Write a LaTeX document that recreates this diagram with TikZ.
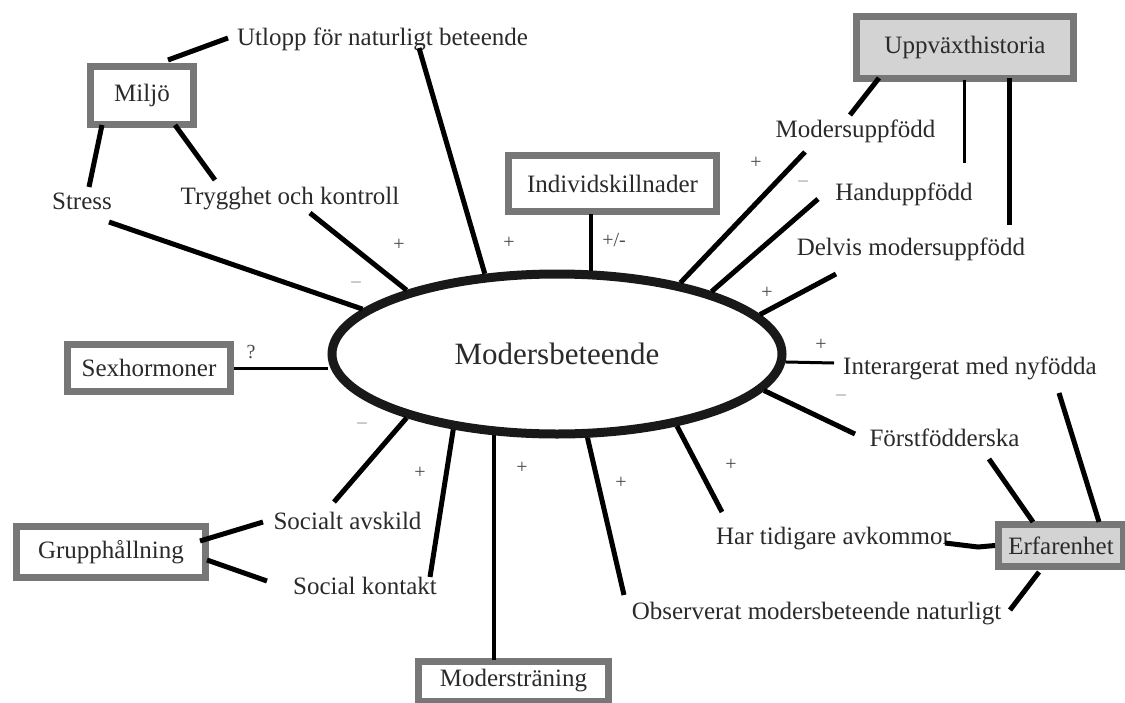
\documentclass[tikz,border=0pt]{standalone}
\usepackage{fontspec}
\setmainfont{Liberation Serif}
\usetikzlibrary{shapes.geometric}
\definecolor{boxgray}{HTML}{777777}
\definecolor{fillgray}{HTML}{D3D3D3}
\definecolor{txt}{HTML}{2A2A2A}
\begin{document}
\begin{tikzpicture}[x=1pt,y=-1pt,
  lbl/.style={font=\fontsize{25}{30}\selectfont, text=txt, inner sep=0pt, anchor=base},
  box/.style={draw=boxgray, line width=7pt, fill=white, rectangle, inner sep=0pt, font=\fontsize{25}{30}\selectfont, text=txt},
  gbox/.style={box, fill=fillgray},
  con/.style={line width=5pt, black},
  thinline/.style={line width=3pt, black},
  sgn/.style={font=\fontsize{20}{24}\selectfont, text=txt!85, inner sep=0pt},
  neg/.style={font=\fontsize{21}{24}\bfseries\selectfont, text=gray!55, inner sep=0pt},
]
\useasboundingbox (0,0) rectangle (1125,702);

% central ellipse
\node[ellipse, draw=black!90, line width=9pt, fill=white, minimum width=450pt, minimum height=160pt, inner sep=0pt,
      font=\fontsize{31}{36}\selectfont, text=txt] (ell) at (557,354) {Modersbeteende};

% boxes
\node[box, minimum width=103pt, minimum height=58pt] (miljo) at (142,95.5) {Miljö};
\node[box, minimum width=208pt, minimum height=56pt] (indiv) at (612.5,183.5) {Individskillnader};
\node[gbox, minimum width=217pt, minimum height=62pt] (uppv) at (965,47.5) {Uppväxthistoria};
\node[box, minimum width=163pt, minimum height=47pt] (sex) at (149,368) {Sexhormoner};
\node[box, minimum width=189pt, minimum height=51pt] (grupp) at (111,552) {Grupphållning};
\node[box, minimum width=190pt, minimum height=40pt] (modtr) at (513.5,681) {Moderstr\"aning};
\node[gbox, minimum width=125pt, minimum height=42pt] (erf) at (1061,545.5) {Erfarenhet};

% labels
\node[lbl] (utl) at (382.5,45) {Utlopp för naturligt beteende};
\node[lbl] (stress) at (82,209) {Stress};
\node[lbl] (tryg) at (290,204) {Trygghet och kontroll};
\node[lbl] (modu) at (855.5,137) {Modersuppfödd};
\node[lbl] (hand) at (904,200) {Handuppfödd};
\node[lbl] (delv) at (911,255) {Delvis modersuppfödd};
\node[lbl] (inter) at (970,374) {Interargerat med nyfödda};
\node[lbl] (forst) at (944.5,446) {Förstfödderska};
\node[lbl] (har) at (833.5,544) {Har tidigare avkommor};
\node[lbl] (obs) at (816.5,619) {Observerat modersbeteende naturligt};
\node[lbl] (savsk) at (347.5,529) {Socialt avskild};
\node[lbl] (skont) at (365,594) {Social kontakt};

% signs
\node[sgn] (s1) at (399,245) {+};
\node[sgn] (s2) at (509,243) {+};
\node[sgn] (s3) at (614,240) {+/-};
\node[sgn] (s4) at (756,163) {+};
\node[neg] (s5) at (803,185) {−};
\node[sgn] (s6) at (767,293) {+};
\node[sgn] (s7) at (821,345) {+};
\node[neg] (s8) at (841,399) {−};
\node[sgn] (s9) at (731,465) {+};
\node[sgn] (s10) at (621,483) {+};
\node[sgn] (s11) at (522,468) {+};
\node[sgn] (s12) at (420,473) {+};
\node[neg] (s13) at (362,427) {−};
\node[neg] (s14) at (356,286) {−};
\node[sgn] (s15) at (251,352) {?};

% connector end points
\coordinate (m1) at (168,60);
\coordinate (u1) at (228,38);
\coordinate (m2) at (102,125);
\coordinate (st1) at (89,187);
\coordinate (m3) at (175,125);
\coordinate (tr1) at (215,180);
\coordinate (st2) at (109,222);
\coordinate (tr2) at (310,213);
\coordinate (u2) at (419,48);
\coordinate (in1) at (591,214);
\coordinate (up1) at (879,78);
\coordinate (mu1) at (850,115);
\coordinate (up2) at (964,80);
\coordinate (ha1) at (964,163);
\coordinate (up3) at (1009,78);
\coordinate (de1) at (1009,225);
\coordinate (mu2) at (805,152);
\coordinate (ha2) at (818,199);
\coordinate (de2) at (836,274);
\coordinate (ia1) at (834,363);
\coordinate (fo1) at (855,434);
\coordinate (fo2) at (989,459);
\coordinate (er1) at (1033,522);
\coordinate (ia2) at (1059,393);
\coordinate (er2) at (1099,522);
\coordinate (ha3) at (945,543);
\coordinate (ha4) at (978,547);
\coordinate (hr1) at (722,512);
\coordinate (ob1) at (624,595);
\coordinate (er3) at (1039,572);
\coordinate (ob2) at (1010,610);
\coordinate (mt1) at (494,660);
\coordinate (sk1) at (430,577);
\coordinate (sa1) at (334,502);
\coordinate (gr1) at (200,541);
\coordinate (sa2) at (263,522);
\coordinate (gr2) at (207,560);
\coordinate (sk2) at (267,581);

% connectors
\draw[con] (m1) -- (u1);
\draw[con] (m2) -- (st1);
\draw[con] (m3) -- (tr1);
\draw[con] (st2) -- (ell.167.5);
\draw[con] (tr2) -- (ell.157.5);
\draw[con] (u2) -- (ell.132);
\draw[line width=4pt] (in1) -- (in1 |- ell.67.5);
\draw[con] (up1) -- (mu1);
\draw[thinline] (up2) -- (ha1);
\draw[con] (up3) -- (de1);
\draw[con] (mu2) -- (ell.30.4);
\draw[con] (ha2) -- (ell.22);
\draw[con] (de2) -- (ell.11.3);
\draw[thinline] (ia1) -- (ell.-2.4);
\draw[con] (fo1) -- (ell.-10.9);
\draw[con] (fo2) -- (er1);
\draw[con] (ia2) -- (er2);
\draw[con] (ha3) -- (ha4) -- (erf.west);
\draw[con] (hr1) -- (ell.-31.5);
\draw[con] (ob1) -- (ell.-70);
\draw[con] (er3) -- (ob2);
\draw[line width=4pt] (mt1) -- (mt1 |- ell.-128);
\draw[con] (sk1) -- (ell.-144.3);
\draw[con] (sa1) -- (ell.-157);
\draw[con] (gr1) -- (sa2);
\draw[con] (gr2) -- (sk2);
\draw[thinline] (sex.east) -- (sex.east -| ell.west);
\end{tikzpicture}
\end{document}
